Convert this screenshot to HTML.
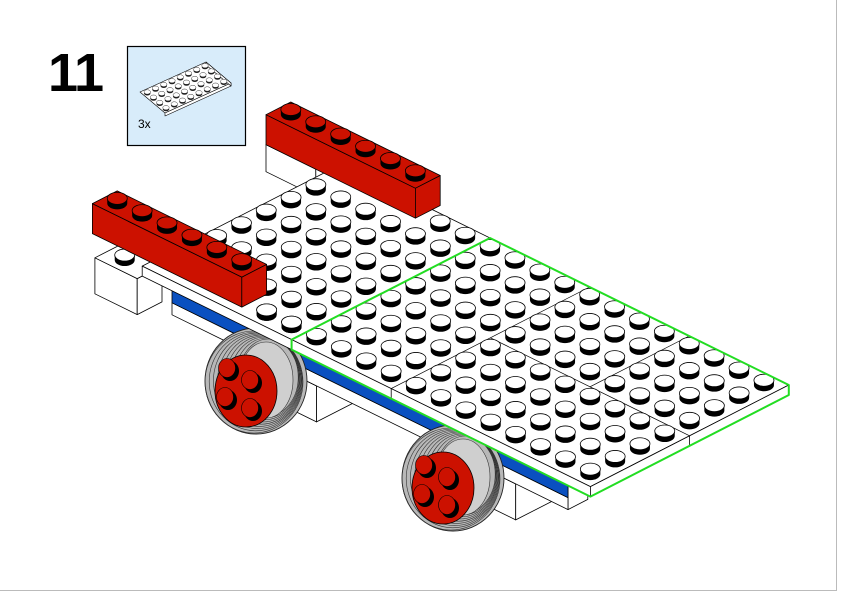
<!DOCTYPE html>
<html><head><meta charset="utf-8"><style>
html,body{margin:0;padding:0;background:#fff;}
#w{position:relative;width:842px;height:596px;overflow:hidden;}
svg{position:absolute;left:0;top:0;}
.n{position:absolute;left:48px;top:42px;font:bold 54px "Liberation Sans",sans-serif;color:#000;letter-spacing:-1px;}
.c{position:absolute;left:138px;top:117px;font:12px "Liberation Sans",sans-serif;color:#000;}
</style></head><body><div id="w">
<svg id="s" width="842" height="596" viewBox="0 0 842 596"></svg>
<div class="n">11</div>
<div class="c">3x</div>
</div>
<script>
const S=[];
function P(u,v,h){return [340.6+24.9*u-24.8*v,164.5+12.25*u+12.7*v-h];}
function f(p){return p[0].toFixed(1)+','+p[1].toFixed(1);}
function poly(pts,fill,sw){S.push('<polygon points="'+pts.map(f).join(' ')+'" fill="'+fill+'" stroke="#000" stroke-width="'+(sw||0.8)+'" stroke-linejoin="round"/>');}
function line(a,b,c,w){S.push('<line x1="'+a[0]+'" y1="'+a[1]+'" x2="'+b[0]+'" y2="'+b[1]+'" stroke="'+(c||'#000')+'" stroke-width="'+(w||0.8)+'"/>');}
function box(u0,u1,v0,v1,h0,h1,c){
 poly([P(u0,v1,h0),P(u1,v1,h0),P(u1,v1,h1),P(u0,v1,h1)],c);
 poly([P(u1,v0,h0),P(u1,v1,h0),P(u1,v1,h1),P(u1,v0,h1)],c);
 poly([P(u0,v0,h1),P(u1,v0,h1),P(u1,v1,h1),P(u0,v1,h1)],c);}
function stud(u,v,h,top){const p=P(u,v,h),x=p[0],y=p[1];
 S.push('<path d="M'+(x-10)+','+y+' L'+(x-10)+','+(y-5)+' L'+(x+10)+','+(y-5)+' L'+(x+10)+','+y+' A10,6 0 0 1 '+(x-10)+','+y+' Z" fill="#000"/>');
 S.push('<ellipse cx="'+x+'" cy="'+(y-5)+'" rx="10" ry="6" fill="'+top+'" stroke="#000" stroke-width="0.8"/>');}
function brick(u0,u1,v0,v1,h0,h1,c){box(u0,u1,v0,v1,h0,h1,c);
 for(let u=u0;u<u1;u++)for(let v=v0;v<v1;v++)stud(u+.5,v+.5,h1,c);}
function wheel(dx,dy){
 let t='<g transform="translate('+dx+','+dy+')">';
 t+='<ellipse cx="256" cy="381" rx="51" ry="53" fill="#b8b8b8" stroke="#222" stroke-width="0.9"/>';
 for(let i=0;i<9;i++){t+='<ellipse cx="'+(254+i*1.8)+'" cy="'+(382-i*0.6)+'" rx="'+(49-i*2.4)+'" ry="'+(51-i*1.6)+'" fill="none" stroke="#333" stroke-width="0.6"/>';}
 t+='<ellipse cx="266" cy="380" rx="27" ry="38" fill="#cfcfcf" stroke="#333" stroke-width="0.6"/>';
 t+='<ellipse cx="246" cy="391" rx="31" ry="36" fill="#cc1100" stroke="#000" stroke-width="0.8"/>';
 [[227,368],[250,380],[225,397],[250,408]].forEach(q=>{
  t+='<ellipse cx="'+(q[0]+3)+'" cy="'+(q[1]+3)+'" rx="9" ry="10" fill="#000"/>';
  t+='<ellipse cx="'+q[0]+'" cy="'+q[1]+'" rx="8.5" ry="9.5" fill="#cc1100" stroke="#000" stroke-width="0.6"/>';});
 t+='</g>';S.push(t);}
const R='#cc1100',W='#ffffff';
S.push('<line x1="836.5" y1="0" x2="836.5" y2="590" stroke="#bbb" stroke-width="1"/>');
S.push('<line x1="0" y1="590.5" x2="837" y2="590.5" stroke="#bbb" stroke-width="1"/>');
S.push('<rect x="127.5" y="46.5" width="118" height="99" fill="#d8ecfa" stroke="#000" stroke-width="1.2"/>');
(function(){const A=[140,92],L=[66/8,-30/8],Sv=[25/4,21/4];
 function Q(a,b,h){return [A[0]+L[0]*a+Sv[0]*b,A[1]+L[1]*a+Sv[1]*b-(h||0)];}
 poly([Q(0,0),Q(8,0),Q(8,4),Q(0,4)],'#fff',0.6);
 poly([Q(0,4),Q(8,4),Q(8,4,-3),Q(0,4,-3)],'#fff',0.6);
 poly([Q(8,0),Q(8,4),Q(8,4,-3),Q(8,0,-3)],'#fff',0.6);
 for(let a=0;a<8;a++)for(let b=0;b<4;b++){const q=Q(a+.5,b+.5);
  S.push('<ellipse cx="'+q[0]+'" cy="'+(q[1]+0.6)+'" rx="3.2" ry="2.2" fill="#222"/>');
  S.push('<ellipse cx="'+q[0]+'" cy="'+(q[1]-0.8)+'" rx="3.2" ry="2.2" fill="#fff" stroke="#000" stroke-width="0.4"/>');}
})();
box(-2,0,0,1,-19,8,W);
box(-1.9,-0.2,7,8,-51,-15,W);
stud(-1.2,7.5,-15,W);
box(4.6,6.6,5.6,7.6,-80,-44,W);
box(12.6,14.6,5.6,7.6,-80,-44,W);
poly([P(16.7,6.8,-10),P(16.7,7.6,-10),P(16.7,7.6,-44),P(16.7,6.8,-44)],W);
poly([P(0.8,7.6,-32),P(16.7,7.6,-32),P(16.7,7.6,-44),P(0.8,7.6,-44)],W);
poly([P(0.8,7.6,-10),P(16.7,7.6,-10),P(16.7,7.6,-32),P(0.8,7.6,-32)],'#0a50c0');
wheel(0,0);wheel(197,97);
poly([P(0,0,0),P(18,0,0),P(18,8,0),P(0,8,0)],W);
poly([P(0,8,0),P(18,8,0),P(18,8,-10),P(0,8,-10)],W);
poly([P(18,0,0),P(18,8,0),P(18,8,-10),P(18,0,-10)],W);
line(P(10,8,0),P(10,8,-10));line(P(18,4,0),P(18,4,-10));
line(P(10,0,0),P(10,8,0),'#000',0.7);line(P(10,4,0),P(18,4,0),'#000',0.7);line(P(14,0,0),P(14,4,0),'#000',0.7);
brick(-2,4,0,1,8,38,R);
const st=[];
for(let u=0;u<18;u++)for(let v=0;v<8;v++){if((v==0||v==7)&&u<4)continue;st.push([u+.5,v+.5]);}
st.sort((a,b)=>(a[0]+a[1])-(b[0]+b[1]));
st.forEach(s=>stud(s[0],s[1],0,W));
S.push('<polygon points="'+[P(6,0,0),P(18,0,0),P(18,0,-10),P(18,8,-10),P(6,8,-10),P(6,8,0)].map(f).join(' ')+'" fill="none" stroke="#22dd22" stroke-width="2" stroke-linejoin="round"/>');
brick(-2,4,7,8,8,38,R);
stud(4.5,7.5,0,W);stud(5.5,7.5,0,W);
document.getElementById('s').innerHTML=S.join('');
</script>
</body></html>
